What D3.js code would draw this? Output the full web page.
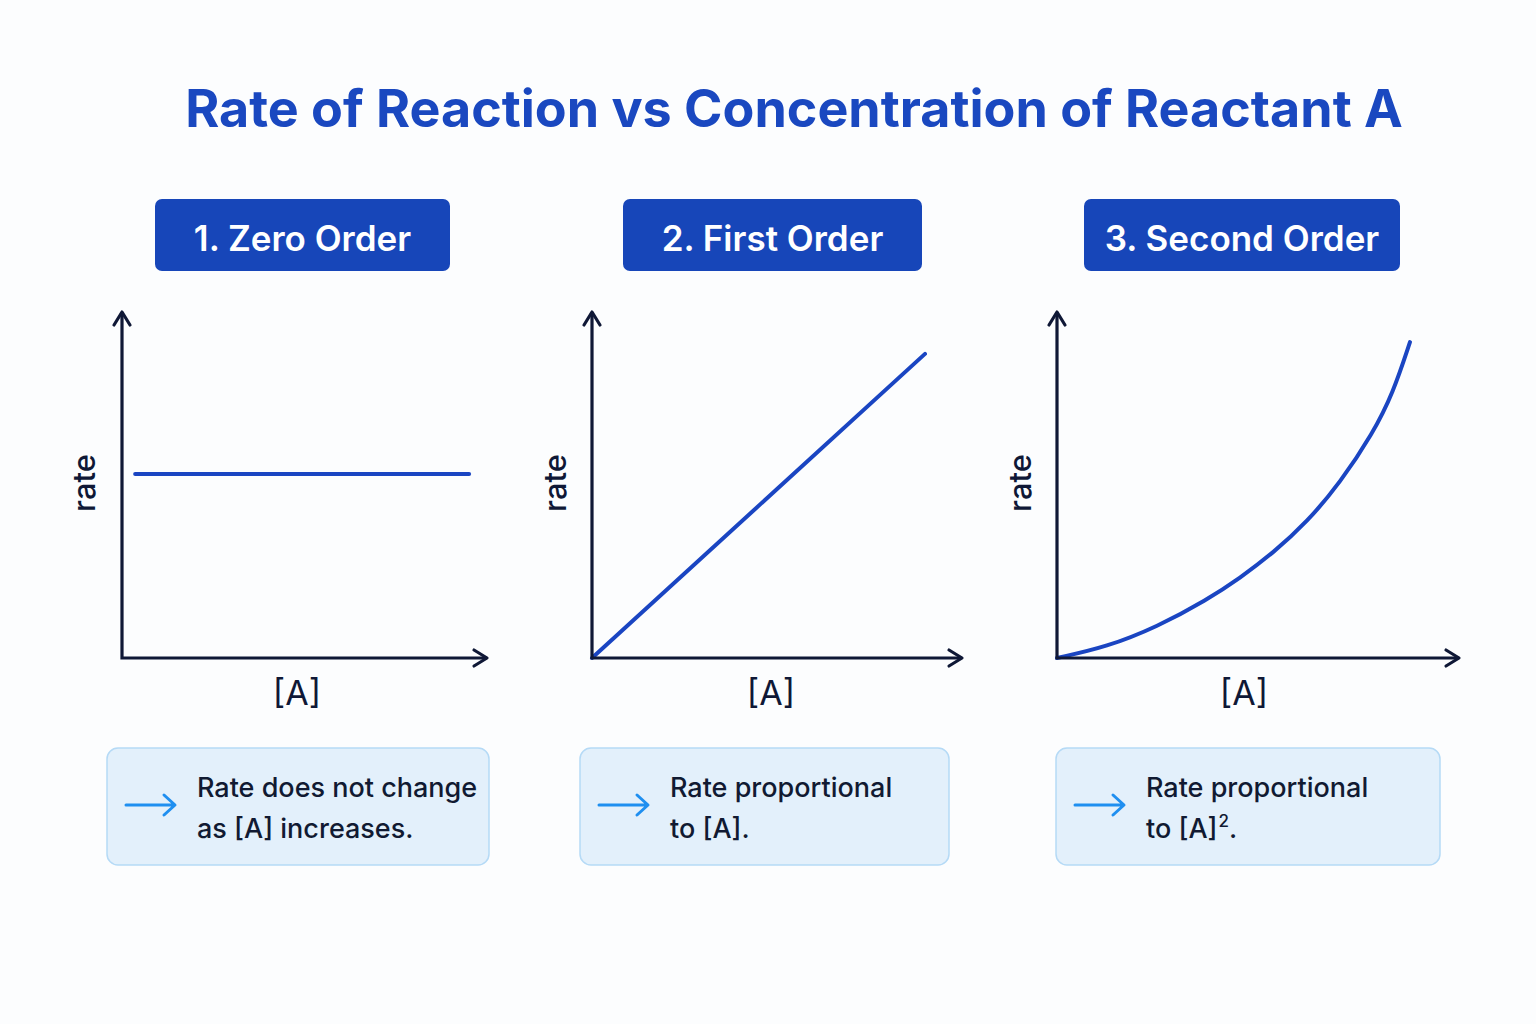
<!DOCTYPE html>
<html>
<head>
<meta charset="utf-8">
<script src="https://cdn.jsdelivr.net/npm/d3@7"></script>
<style>
html,body{margin:0;padding:0;background:#fcfdfe;}
svg{display:block;font-family:Inter,"Open Sans",sans-serif;}
</style>
</head>
<body>
<svg id="chart" width="1536" height="1024"></svg>
<script>
// ---- data ----
const titleText = "Rate of Reaction vs Concentration of Reactant A";
const panelTitles = ["1. Zero Order", "2. First Order", "3. Second Order"];
const xLabel = "[A]";
const yLabel = "rate";
const noteLines = [
  ["Rate does not change", "as [A] increases."],
  ["Rate proportional", "to [A]."],
  ["Rate proportional", "to [A]", "2", "."]
];
// concentration [A] (x) and rate (y) in axis units 0-10
const zeroX = [0.36, 9.51];
const zeroY = [5.32, 5.32];
const firstX = [0, 9.0];
const firstY = [0, 8.79];
const secondX = [0, 1.24, 2.49, 3.73, 4.55, 5.37, 6.22, 7.04, 7.86, 8.36, 8.78];
const secondY = [0, 0.32, 0.90, 1.68, 2.31, 3.03, 3.93, 5.06, 6.50, 7.66, 9.13];
const series = [
  zeroX.map((x,i)=>({x, y: zeroY[i]})),
  firstX.map((x,i)=>({x, y: firstY[i]})),
  secondX.map((x,i)=>({x, y: secondY[i]}))
];

// ---- layout ----
const panels = [
  {ox:122, tip:487, head:[155,450], note:[107,489], rateX:84,  alx:297},
  {ox:592, tip:962, head:[623,922], note:[580,949], rateX:555, alx:771},
  {ox:1057,tip:1459,head:[1084,1400],note:[1056,1440],rateX:1020,alx:1244}
];
const oy = 658, yTop = 312;
const axisCol = "#0f1836", lineCol = "#1a45c2", headCol = "#1746b9";

const svg = d3.select("#chart");

svg.append("text")
  .attr("x", 794).attr("y", 127)
  .attr("text-anchor","middle")
  .attr("font-size", 52).attr("font-weight", 700)
  .attr("fill", "#1a48c0")
  .text(titleText);

const y = d3.scaleLinear().domain([0,10]).range([oy, yTop]);

panels.forEach((p, i) => {
  const g = svg.append("g");
  // header
  g.append("rect")
    .attr("x", p.head[0]).attr("y", 199)
    .attr("width", p.head[1]-p.head[0]).attr("height", 72)
    .attr("rx", 7).attr("fill", headCol);
  g.append("text")
    .attr("x", (p.head[0]+p.head[1])/2).attr("y", 251)
    .attr("text-anchor","middle").attr("font-size", 35).attr("font-weight", 600)
    .attr("fill", "#ffffff")
    .text(panelTitles[i]);

  const x = d3.scaleLinear().domain([0,10]).range([p.ox, p.tip]);

  // data line
  const line = d3.line().x(d=>x(d.x)).y(d=>y(d.y)).curve(d3.curveBasis);
  g.append("path").datum(series[i])
    .attr("d", line)
    .attr("fill","none").attr("stroke", lineCol)
    .attr("stroke-width", 4).attr("stroke-linecap","round");

  // axes with arrows
  g.append("path")
    .attr("d", `M${x(0)},${y(10)} L${x(0)},${y(0)} L${x(10)},${y(0)}`)
    .attr("fill","none").attr("stroke", axisCol).attr("stroke-width", 3.2)
    .attr("stroke-linejoin","miter");
  g.append("path")
    .attr("d", `M${x(0)-8},${y(10)+13} L${x(0)},${y(10)} L${x(0)+8},${y(10)+13}`)
    .attr("fill","none").attr("stroke", axisCol).attr("stroke-width", 3.2)
    .attr("stroke-linecap","round").attr("stroke-linejoin","round");
  g.append("path")
    .attr("d", `M${x(10)-13},${y(0)-8} L${x(10)},${y(0)} L${x(10)-13},${y(0)+8}`)
    .attr("fill","none").attr("stroke", axisCol).attr("stroke-width", 3.2)
    .attr("stroke-linecap","round").attr("stroke-linejoin","round");

  // axis labels
  g.append("text")
    .attr("transform", `translate(${p.rateX+11},483) rotate(-90)`)
    .attr("text-anchor","middle").attr("font-size", 31).attr("font-weight", 500)
    .attr("fill", axisCol).text(yLabel);
  g.append("text")
    .attr("x", p.alx).attr("y", 705)
    .attr("text-anchor","middle").attr("font-size", 34).attr("font-weight", 400)
    .attr("fill", axisCol).text(xLabel);

  // note box
  g.append("rect")
    .attr("x", p.note[0]).attr("y", 748)
    .attr("width", p.note[1]-p.note[0]).attr("height", 117)
    .attr("rx", 11).attr("fill", "#e3f0fb").attr("stroke", "#b5daf6").attr("stroke-width", 1.5);
  const ax = p.note[0]+19, ay = 805;
  g.append("path")
    .attr("d", `M${ax},${ay} L${ax+48},${ay} M${ax+38},${ay-10} L${ax+49},${ay} L${ax+38},${ay+10}`)
    .attr("fill","none").attr("stroke", "#1f8ff0").attr("stroke-width", 3)
    .attr("stroke-linecap","round").attr("stroke-linejoin","round");
  const tx = p.note[0]+90;
  const nl = noteLines[i];
  g.append("text").attr("x", tx).attr("y", 797)
    .attr("font-size", 27).attr("font-weight", 500).attr("fill", "#111a32")
    .text(nl[0]);
  const t2 = g.append("text").attr("x", tx).attr("y", 838)
    .attr("font-size", 27).attr("font-weight", 500).attr("fill", "#111a32");
  t2.append("tspan").text(nl[1]);
  if (nl.length > 2) {
    t2.append("tspan").attr("dx", 1).attr("dy", -11).attr("font-size", 17).text(nl[2]);
    t2.append("tspan").attr("dy", 11).text(nl[3]);
  }
});
</script>
</body>
</html>
